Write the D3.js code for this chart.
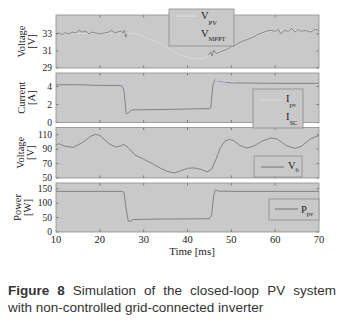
<!DOCTYPE html>
<html>
<head>
<meta charset="utf-8">
<script src="https://cdn.jsdelivr.net/npm/d3@7"></script>
<style>
  body { margin: 0; background: #fff; }
  svg { display: block; }
</style>
</head>
<body>
<div id="chart"></div>
<script>
// time axis
var timeTicks = [10, 20, 30, 40, 50, 60, 70]

// panel 1: PV voltage [V]
var vpv = [[10,33.0],[26,33.1],[28,33.0],[29,32.9],[31,32.4],[33.6,31.9],[36,31.2],[38.3,30.5],[41,30.1],[43,30.1],[44.5,30.3],[46,30.7],[50,31.5],[55,32.6],[58,33.2],[60,33.4],[70,33.4]]
var vmppt = [[10,33.0],[10.7,33.1],[11.3,32.9],[12,33.1],[13,33.0],[13.8,33.2],[14.5,33.1],[15.3,33.4],[16,33.2],[16.8,33.3],[17.5,33.0],[18.3,33.2],[19,33.1],[20,33.0],[21,33.1],[22,33.2],[22.7,33.4],[23.4,33.1],[24,33.2],[24.8,33.3],[25.3,33.1],[25.6,33.4],[25.9,32.6],[26.2,33.0],
  [44.8,null],
  [44.8,30.5],[45.3,30.9],[45.6,30.4],[46,31.1],[46.5,30.7],[47,30.8],[48,31.0],[49,31.2],[50,31.5],[51,31.7],[52,32.0],[53,32.2],[54,32.4],[55,32.6],[56,32.9],[57,33.1],[58,33.3],[59,33.4],[60,33.3],[60.7,33.5],[61.3,33.0],[62,33.4],[63,33.3],[63.8,33.6],[64.5,33.2],[65.2,33.5],[66,33.3],[67,33.4],[68,33.2],[69,33.5],[70,33.4]]

// panel 2: currents [A]
var ipv = [[10,4.2],[15,4.2],[20,4.12],[24,4.12],[25,4.1],[25.5,3.6],[26,1.0],[26.3,1.0],[27,1.3],[27.5,1.4],[30,1.42],[35,1.45],[40,1.5],[45,1.55],[45.3,1.6],[45.8,4.2],[46.3,4.75],[47,4.6],[50,4.4],[55,4.38],[60,4.35],[70,4.35]]
var isc = [[24.8,4.15],[25.2,4.55],[25.5,4.2],[25.5,null],[46.3,4.7],[47,4.62],[48,4.6],[49,4.58],[50,4.55],[51,4.5]]

// panel 3: bus voltage [V]
var vb = [[10,96],[10.7,97.5],[12,94],[14,92.5],[16,99],[18,108],[19,110.5],[20,109],[22,98],[23.5,93],[24.5,94],[25.5,96.5],[26.5,92],[28,82],[30,76],[32,70],[34,63],[35.5,59],[37,57],[38.5,60],[40,63.5],[41.5,64],[43,62],[44.5,58.5],[45.5,62],[46.5,76],[47.5,92],[48.5,101],[49.5,103.5],[50.5,102],[52,95],[53.5,91.5],[55,94],[57,101],[59,105.5],[60.5,104],[62.5,95],[64.5,91],[66,94],[68,104],[70,109]]

// panel 4: PV power [W]
var ppv = [[10,141],[20,141],[25,141],[25.5,138],[26,80],[26.5,38],[27,37],[27.5,43],[30,44],[35,45],[40,45.5],[45,46],[45.5,60],[46,130],[46.4,146],[47,142],[50,141],[60,141],[70,141]]

var caption1 = ['Figure 8', 'Simulation of the closed-loop PV system']
var caption2 = 'with non-controlled grid-connected inverter'

var W = 347, H = 325
var bg = '#c9c9c9', frame = '#8c8c8c', ink = '#222', lineCol = '#6a6a6a'
var serif = '"Liberation Serif", "Times New Roman", serif'

var svg = d3.select('#chart').append('svg').attr('width', W).attr('height', H)

var x = d3.scaleLinear().domain([10, 70]).range([56, 319])

var panels = [
  {top: 15, bottom: 68, domain: [29, 35.2], ticks: [29, 31, 33], label: ['Voltage', '[V]'], lx: [21, 31],
    series: [{data: vpv, color: '#e6e6e6', w: 0.8, dash: '1.5,1'}, {data: vmppt, color: '#6a6a6a', w: 0.7}]},
  {top: 73, bottom: 122.5, domain: [0, 5.5], ticks: [0, 2, 4], label: ['Current', '[A]'], lx: [21, 31],
    series: [{data: ipv, color: lineCol, w: 0.75}, {data: isc, color: '#c8d2e2', w: 0.9}]},
  {top: 127.5, bottom: 178, domain: [50, 120], ticks: [50, 70, 90, 110], label: ['Voltage', '[V]'], lx: [20, 30],
    series: [{data: vb, color: lineCol, w: 0.75}]},
  {top: 183, bottom: 232, domain: [0, 170], ticks: [0, 50, 100, 150], label: ['Power', '[W]'], lx: [17, 27],
    series: [{data: ppv, color: lineCol, w: 0.75}]},
]

panels.forEach(function(p){
  var y = d3.scaleLinear().domain(p.domain).range([p.bottom, p.top])
  var g = svg.append('g')
  var x0 = x.range()[0], x1 = x.range()[1]

  g.append('rect')
    .attr('x', x0).attr('y', p.top)
    .attr('width', x1 - x0).attr('height', p.bottom - p.top)
    .attr('fill', bg)

  var line = d3.line()
    .defined(d => d[1] != null)
    .x(d => x(d[0])).y(d => y(d[1]))

  p.series.forEach(function(s){
    g.append('path')
      .datum(s.data)
      .attr('d', line)
      .attr('fill', 'none')
      .attr('stroke', s.color)
      .attr('stroke-width', s.w)
      .attr('stroke-dasharray', s.dash || null)
      .attr('stroke-linejoin', 'round')
  })

  // inward ticks, box style
  var tl = 2.5
  g.selectAll('.xt').data(timeTicks.slice(1, -1)).join('path')
    .attr('d', d => 'M' + x(d) + ',' + p.top + 'v' + tl + 'M' + x(d) + ',' + p.bottom + 'v' + (-tl))
    .attr('stroke', '#555').attr('stroke-width', 0.7)
  g.selectAll('.yt').data(p.ticks).join('path')
    .attr('d', d => 'M' + x0 + ',' + y(d) + 'h' + tl + 'M' + x1 + ',' + y(d) + 'h' + (-tl))
    .attr('stroke', '#555').attr('stroke-width', 0.7)

  g.append('rect')
    .attr('x', x0).attr('y', p.top)
    .attr('width', x1 - x0).attr('height', p.bottom - p.top)
    .attr('fill', 'none').attr('stroke', frame).attr('stroke-width', 0.8)

  g.selectAll('.yl').data(p.ticks).join('text')
    .attr('x', 52).attr('y', d => y(d)).attr('dy', '0.33em')
    .attr('text-anchor', 'end')
    .attr('font-family', serif).attr('font-size', 9.5).attr('fill', ink)
    .text(d => d)

  var cy = (p.top + p.bottom)/2
  p.label.forEach(function(t, i){
    g.append('text')
      .attr('transform', 'translate(' + p.lx[i] + ',' + cy + ') rotate(-90)')
      .attr('dy', '0.35em')
      .attr('text-anchor', 'middle')
      .attr('font-family', serif).attr('font-size', 10.5).attr('fill', ink)
      .text(t)
  })
})

// x tick labels and title
svg.selectAll('.xl').data(timeTicks).join('text')
  .attr('x', d => x(d)).attr('y', 243)
  .attr('text-anchor', 'middle')
  .attr('font-family', serif).attr('font-size', 10.5).attr('fill', ink)
  .text(d => d)

svg.append('text')
  .attr('x', 192).attr('y', 255)
  .attr('text-anchor', 'middle')
  .attr('font-family', serif).attr('font-size', 11).attr('fill', ink)
  .text('Time [ms]')

// legends
function legendBox(bx, by, bw, bh){
  svg.append('rect').attr('x', bx).attr('y', by).attr('width', bw).attr('height', bh)
    .attr('fill', bg).attr('stroke', frame).attr('stroke-width', 0.8)
}
function legendLine(ax, bx, ly, color){
  svg.append('line').attr('x1', ax).attr('x2', bx).attr('y1', ly).attr('y2', ly)
    .attr('stroke', color).attr('stroke-width', 0.9)
}
function legendLabel(lx, ly, main, sub, subDy){
  var t = svg.append('text').attr('x', lx).attr('y', ly)
    .attr('font-family', serif).attr('font-size', 10.5).attr('fill', ink)
  t.append('tspan').text(main)
  t.append('tspan').attr('dy', subDy).attr('font-size', 6.5).text(sub)
}

legendBox(169, 9, 65, 37)
legendLine(176, 197, 16, '#e4e4e4')
legendLabel(201, 19, 'V', 'PV', 6)
legendLabel(201, 37, 'V', 'MPPT', 4)

legendBox(253, 89, 50, 39)
legendLine(259, 283, 100, '#e0e0e0')
legendLabel(286, 102, 'I', 'pv', 5)
legendLabel(286, 120, 'I', 'SC', 5)

legendBox(254, 156, 48, 21)
legendLine(261, 284, 167, lineCol)
legendLabel(288, 169, 'V', 'b', 3)

legendBox(269, 199, 50, 21)
legendLine(275, 298, 209, lineCol)
legendLabel(301, 213, 'P', 'pv', 3)

// caption, justified first line
var sans = '"Liberation Sans", Arial, sans-serif'
var c1 = svg.append('text').attr('x', 8).attr('y', 295)
  .attr('font-family', sans).attr('font-size', 13.5).attr('fill', '#333')
c1.append('tspan').attr('font-weight', 'bold').text(caption1[0])
c1.append('tspan').text(' ' + caption1[1])
var gaps = caption1.join(' ').split(' ').length - 1
var extra = (336 - 8 - c1.node().getComputedTextLength())/gaps
c1.attr('word-spacing', extra)

svg.append('text').attr('x', 8).attr('y', 312)
  .attr('font-family', sans).attr('font-size', 13.5).attr('fill', '#333')
  .text(caption2)
</script>
</body>
</html>
